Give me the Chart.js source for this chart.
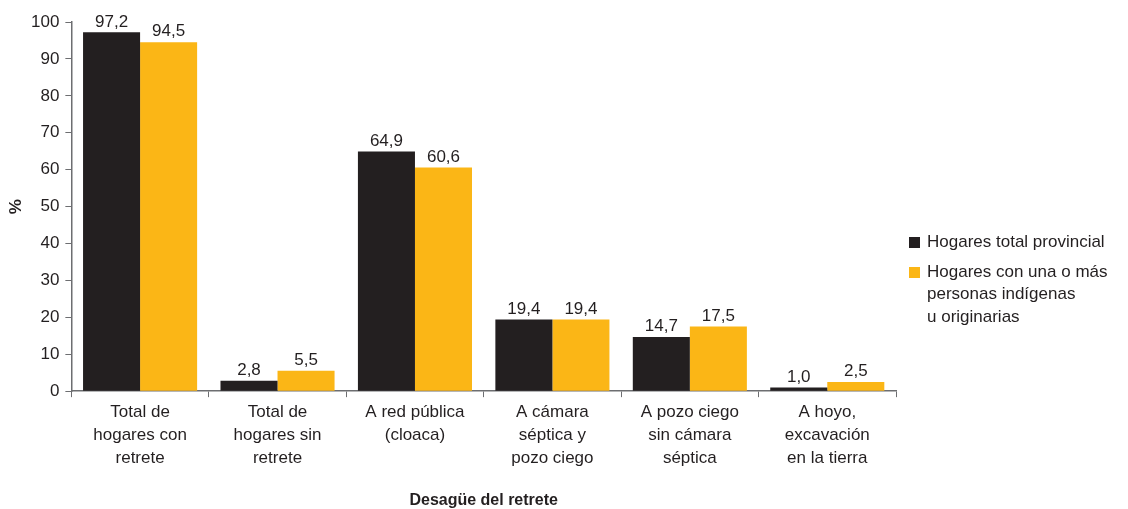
<!DOCTYPE html>
<html lang="es">
<head>
<meta charset="UTF-8">
<title>Desagüe del retrete</title>
<style>
    body, html { margin: 0; padding: 0; background: #fff; font-family: "Liberation Sans", Arial, sans-serif; }
    #wrap { position: relative; width: 1128px; height: 509px; }
    #legend { position: absolute; left: 909px; top: 231px; color: #231f20; font-size: 17px; line-height: 22.5px; }
    .item { display: flex; align-items: flex-start; margin-bottom: 7px; }
    .box { width: 11px; height: 11px; margin: 6px 7px 0 0; flex: none; }
</style>
</head>
<body>
<div id="wrap">
    <canvas id="myChart" width="1128" height="509"></canvas>
    <div id="legend"></div>
</div>
<script src="https://cdn.jsdelivr.net/npm/chart.js"></script>
<script>
    var categories = [
        ['Total de', 'hogares con', 'retrete'],
        ['Total de', 'hogares sin', 'retrete'],
        ['A red pública', '(cloaca)'],
        ['A cámara', 'séptica y', 'pozo ciego'],
        ['A pozo ciego', 'sin cámara', 'séptica'],
        ['A hoyo,', 'excavación', 'en la tierra']
    ];
    var totalProvincial = [97.2, 2.8, 64.9, 19.4, 14.7, 1.0];
    var indigenas = [94.5, 5.5, 60.6, 19.4, 17.5, 2.5];
    var seriesNames = [['Hogares total provincial'], ['Hogares con una o más', 'personas indígenas', 'u originarias']];
    var colors = ['#231f20', '#fbb616'];
    var textColor = '#231f20';

    Chart.defaults.font.family = '"Liberation Sans", Arial, sans-serif';
    Chart.defaults.color = textColor;

    // etiquetas de valor encima de las barras
    var valueLabels = {
        id: 'valueLabels',
        afterDatasetsDraw: function(chart) {
            var ctx = chart.ctx;
            ctx.save();
            ctx.font = '17px "Liberation Sans", Arial, sans-serif';
            ctx.fillStyle = textColor;
            ctx.textAlign = 'center';
            ctx.textBaseline = 'bottom';
            chart.data.datasets.forEach(function(ds, i) {
                chart.getDatasetMeta(i).data.forEach(function(bar, j) {
                    ctx.fillText(ds.data[j].toFixed(1).replace('.', ','), bar.x, bar.y - 2);
                });
            });
            ctx.restore();
        }
    };

    new Chart(document.getElementById('myChart'), {
        type: 'bar',
        data: {
            labels: categories,
            datasets: [
                { label: seriesNames[0].join(' '), data: totalProvincial, backgroundColor: colors[0] },
                { label: seriesNames[1].join(' '), data: indigenas, backgroundColor: colors[1] }
            ]
        },
        options: {
            responsive: false,
            animation: false,
            layout: { padding: { left: 0, right: 232, top: 22, bottom: 0 } },
            datasets: { bar: { categoryPercentage: 0.83, barPercentage: 1.0 } },
            plugins: { legend: { display: false }, tooltip: { enabled: false } },
            scales: {
                x: {
                    grid: { offset: true, drawOnChartArea: false, tickLength: 6, color: '#6d6e71' },
                    border: { color: '#6d6e71', width: 1.5 },
                    ticks: { font: { size: 17, lineHeight: 1.35 }, color: textColor, maxRotation: 0, padding: 4 },
                    title: { display: true, text: 'Desagüe del retrete', font: { size: 16, weight: 'bold', lineHeight: 1.0 }, color: textColor, padding: { top: 19, bottom: 0 } }
                },
                y: {
                    min: 0, max: 100,
                    grid: { drawOnChartArea: false, tickLength: 6, color: '#6d6e71' },
                    border: { color: '#6d6e71', width: 1.5 },
                    ticks: { stepSize: 10, font: { size: 17 }, color: textColor, padding: 6 },
                    title: { display: true, text: '%', font: { size: 17, weight: 'bold', lineHeight: 1.0 }, color: textColor, padding: { top: 8, bottom: 0 } }
                }
            }
        },
        plugins: [valueLabels]
    });

    // leyenda a la derecha
    var legend = document.getElementById('legend');
    seriesNames.forEach(function(lines, i) {
        var item = document.createElement('div');
        item.className = 'item';
        var box = document.createElement('span');
        box.className = 'box';
        box.style.background = colors[i];
        var txt = document.createElement('span');
        txt.innerHTML = lines.join('<br>');
        item.appendChild(box);
        item.appendChild(txt);
        legend.appendChild(item);
    });
</script>
</body>
</html>
